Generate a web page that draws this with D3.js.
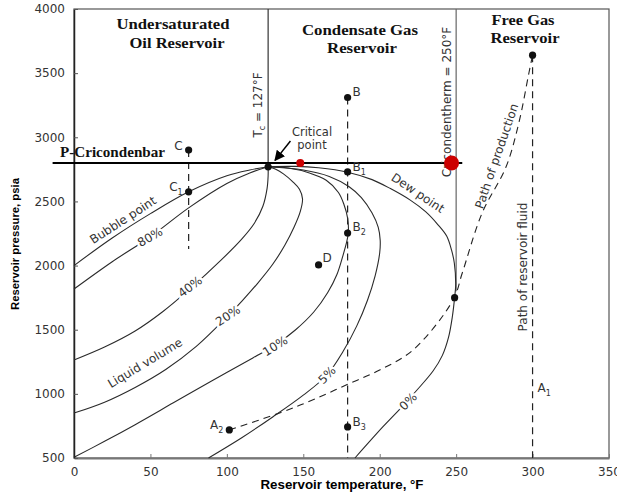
<!DOCTYPE html>
<html><head><meta charset="utf-8">
<script src="https://cdn.jsdelivr.net/npm/d3@7/dist/d3.min.js"></script>
<style>
body{margin:0;background:#fff;}
svg{display:block;}
</style></head>
<body>
<svg id="chart" width="617" height="494"></svg>
<script>
// ---------- data ----------
const xTicks = [0, 50, 100, 150, 200, 250, 300, 350];
const yTicks = [500, 1000, 1500, 2000, 2500, 3000, 3500, 4000];
const criticalPoint = [127, 2770];
const cricondenbarP = 2800;
const cricondenthermT = 250;
const bubblePoint = [[0,2000],[25,2215],[50,2405],[75,2575],[100,2700],[115,2745],[127,2770]];
const q80 = [[0,1817],[25,2030],[50,2225],[75,2450],[100,2640],[115,2722],[127,2770]];
const q40 = [[0,1264],[20,1365],[40,1490],[58,1640],[76,1820],[96,2040],[110,2210],[118,2330],[123.5,2460],[126.3,2600],[127,2700],[127,2770]];
const q20 = [[0,850],[20,935],[40,1050],[60,1190],[80,1370],[100,1600],[110,1725],[120,1860],[130,2010],[138,2160],[144,2300],[148,2420],[149.5,2520],[147.5,2595],[143,2655],[137,2715],[132,2750],[127,2770]];
const q10 = [[0,505],[20,630],[40,760],[65,930],[90,1100],[117,1280],[131,1375],[145,1500],[157,1640],[166,1790],[172,1930],[176,2080],[178.5,2190],[179.5,2260],[179,2370],[176.5,2480],[173,2570],[165,2665],[154,2722],[140,2760],[127,2770]];
const q5 = [[88,500],[110,660],[130,820],[150,990],[165.5,1147],[176,1330],[185,1530],[192,1730],[197,1920],[200,2100],[200.3,2200],[199,2300],[195,2410],[188,2530],[180,2615],[167,2695],[150,2745],[127,2770]];
const dewPoint = [[183.8,500],[202,742],[213,880],[224.4,1030],[235,1180],[241,1300],[245,1440],[247.5,1600],[249,1750],[249.7,1850],[248.8,2020],[247,2120],[243.8,2230],[238,2320],[230,2420],[220,2510],[207,2600],[195,2670],[179,2728],[160,2762],[145,2773],[127,2770]];
const pathProduction = [[101.6,719],[134.5,851],[156,952],[178,1069],[200,1186],[221.8,1342],[248,1732],[254,1942],[267,2410],[282.6,2768],[291,3111],[297.6,3501],[300,3640]];
const pointNames = ["C","C1","B","B1","B2","B3","D","A2","Dew","A"];
const pointT = [75, 75, 179, 179, 179, 179, 160, 101.6, 249, 300];
const pointP = [2900, 2575, 3310, 2730, 2254, 742, 2005, 719, 1750, 3640];
const redDotT = [148, 247];
const redDotP = [2800, 2800];

// ---------- setup ----------
const svg = d3.select("#chart");
const x = d3.scaleLinear().domain([0, 350]).range([74, 609]);
const y = d3.scaleLinear().domain([500, 4000]).range([458, 9]);
const sans = "'DejaVu Sans', sans-serif";
const serif = "'Liberation Serif', 'Times New Roman', serif";
const line = d3.line().x(d => x(d[0])).y(d => y(d[1])).curve(d3.curveCatmullRom.alpha(0.5));

// frame
svg.append("rect").attr("x", x(0)).attr("y", y(4000))
  .attr("width", x(350) - x(0)).attr("height", y(500) - y(4000))
  .attr("fill", "none").attr("stroke", "#555").attr("stroke-width", 1.2);

// axes
const xAxis = svg.append("g").attr("transform", `translate(0,${y(500)})`)
  .call(d3.axisBottom(x).tickValues(xTicks).tickFormat(d3.format("d")).tickSizeInner(-4).tickSizeOuter(0).tickPadding(9));
xAxis.select(".domain").attr("stroke", "#777").attr("stroke-width", 2);
xAxis.selectAll(".tick line").attr("stroke", "#777");
xAxis.selectAll("text").attr("font-family", sans).attr("font-size", 12).attr("fill", "#333");

const yAxis = svg.append("g").attr("transform", `translate(${x(0)},0)`)
  .call(d3.axisLeft(y).tickValues(yTicks).tickFormat(d3.format("d")).tickSizeInner(-4).tickSizeOuter(0).tickPadding(9));
yAxis.select(".domain").attr("stroke", "#222").attr("stroke-width", 1.5);
yAxis.selectAll(".tick line").attr("stroke", "#555");
yAxis.selectAll("text").attr("font-family", sans).attr("font-size", 12).attr("fill", "#333");

svg.append("text").attr("x", 342).attr("y", 489).attr("text-anchor", "middle")
  .attr("font-family", "'Liberation Sans', Arial, sans-serif").attr("font-weight", "bold").attr("font-size", 12)
  .attr("textLength", 163).attr("lengthAdjust", "spacingAndGlyphs")
  .text("Reservoir temperature, °F");
svg.append("text").attr("transform", "translate(19,244) rotate(-90)").attr("text-anchor", "middle")
  .attr("font-family", "'Liberation Sans', Arial, sans-serif").attr("font-weight", "bold").attr("font-size", 11.5)
  .attr("textLength", 132).attr("lengthAdjust", "spacingAndGlyphs")
  .text("Reservoir pressure, psia");

// vertical reference lines
svg.append("line").attr("x1", x(criticalPoint[0])).attr("x2", x(criticalPoint[0]))
  .attr("y1", y(4000)).attr("y2", y(criticalPoint[1])).attr("stroke", "#333").attr("stroke-width", 1.2);
svg.append("line").attr("x1", x(cricondenthermT)).attr("x2", x(cricondenthermT))
  .attr("y1", y(4000)).attr("y2", y(1800)).attr("stroke", "#666").attr("stroke-width", 1.2);

// dashed paths
const dash = "7,5";
svg.append("line").attr("x1", x(75)).attr("x2", x(75)).attr("y1", y(2900)).attr("y2", y(2130))
  .attr("stroke", "#222").attr("stroke-width", 1.2).attr("stroke-dasharray", dash);
svg.append("line").attr("x1", x(179)).attr("x2", x(179)).attr("y1", y(3310)).attr("y2", y(500))
  .attr("stroke", "#222").attr("stroke-width", 1.2).attr("stroke-dasharray", dash);
svg.append("line").attr("x1", x(300)).attr("x2", x(300)).attr("y1", y(3640)).attr("y2", y(500))
  .attr("stroke", "#222").attr("stroke-width", 1.2).attr("stroke-dasharray", dash);
svg.append("path").attr("d", line(pathProduction)).attr("fill", "none")
  .attr("stroke", "#222").attr("stroke-width", 1.1).attr("stroke-dasharray", dash);

// phase envelope curves
[bubblePoint, q80, q40, q20, q10, q5, dewPoint].forEach(c => {
  svg.append("path").attr("d", line(c)).attr("fill", "none").attr("stroke", "#2a2a2a").attr("stroke-width", 1.1);
});

// cricondenbar line
svg.append("line").attr("x1", x(-14)).attr("x2", x(254)).attr("y1", y(cricondenbarP)).attr("y2", y(cricondenbarP))
  .attr("stroke", "#000").attr("stroke-width", 2);

// curve labels (with white halo to break the line)
function curveLabel(txt, T, P, ang, halo) {
  const t = svg.append("text").attr("transform", `translate(${x(T)},${y(P)}) rotate(${ang})`)
    .attr("text-anchor", "middle").attr("dy", "0.35em")
    .attr("font-family", sans).attr("font-size", 12).attr("fill", "#333").text(txt);
  if (halo) t.attr("stroke", "#fff").attr("stroke-width", 5).attr("paint-order", "stroke");
  return t;
}
curveLabel("Bubble point", 32, 2355, -33, false);
curveLabel("80%", 49.7, 2223, -30, true);
curveLabel("40%", 75.9, 1835, -37, true);
curveLabel("Liquid volume", 46.4, 1241, -31, false);
curveLabel("20%", 100.7, 1610, -33, true);
curveLabel("10%", 131.5, 1373, -32, true);
curveLabel("5%", 165.5, 1147, -45, true);
curveLabel("0%", 218.5, 940, -45, true);
curveLabel("Dew point", 225, 2566, 34, false);
curveLabel("Path of production", 276.5, 2854, -71, false);
curveLabel("Path of reservoir fluid", 293.7, 1989, -90, false);
curveLabel("Cricondentherm = 250°F", 244, 3275, -90, false);

// Tc label
const tc = svg.append("text").attr("transform", `translate(${x(120.4)},${y(3252)}) rotate(-90)`)
  .attr("text-anchor", "middle").attr("dy", "0.35em")
  .attr("font-family", sans).attr("font-size", 12).attr("fill", "#333");
tc.append("tspan").text("T");
tc.append("tspan").attr("font-size", 8).attr("dy", "3").text("c");
tc.append("tspan").attr("dy", "-3").text(" = 127°F");

// critical point annotation
svg.append("text").attr("x", x(155.7)).attr("y", y(3010)).attr("text-anchor", "middle")
  .attr("font-family", sans).attr("font-size", 11.5).attr("fill", "#333").text("Critical");
svg.append("text").attr("x", x(155.7)).attr("y", y(2905)).attr("text-anchor", "middle")
  .attr("font-family", sans).attr("font-size", 11.5).attr("fill", "#333").text("point");
svg.append("defs").append("marker").attr("id", "arr").attr("viewBox", "0 0 10 10")
  .attr("refX", 9).attr("refY", 5).attr("markerWidth", 7).attr("markerHeight", 7)
  .attr("orient", "auto").append("path").attr("d", "M0,0L10,5L0,10z").attr("fill", "#000");
svg.append("line").attr("x1", x(141.6)).attr("y1", y(2971)).attr("x2", x(131.5)).attr("y2", y(2820))
  .attr("stroke", "#000").attr("stroke-width", 1.5).attr("marker-end", "url(#arr)");

// red dots
svg.selectAll(".red").data(redDotT).enter().append("circle")
  .attr("cx", d => x(d)).attr("cy", (d, i) => y(redDotP[i]))
  .attr("r", (d, i) => i === 0 ? 4 : 7.5).attr("fill", "#cc0000");

// black points
svg.selectAll(".pt").data(pointT).enter().append("circle")
  .attr("cx", d => x(d)).attr("cy", (d, i) => y(pointP[i])).attr("r", 3.6).attr("fill", "#111");
svg.append("circle").attr("cx", x(criticalPoint[0])).attr("cy", y(criticalPoint[1])).attr("r", 3.6).attr("fill", "#111");

// point labels
function ptLabel(main, sub, T, P, dx, anchor) {
  const t = svg.append("text").attr("x", x(T) + dx).attr("y", y(P)).attr("dy", "0.1em")
    .attr("text-anchor", anchor).attr("font-family", sans).attr("font-size", 12).attr("fill", "#333");
  t.append("tspan").text(main);
  if (sub) t.append("tspan").attr("font-size", 8).attr("dy", "4").text(sub);
}
ptLabel("C", "", 75, 2910, -6, "end");
ptLabel("C", "1", 75, 2590, -6, "end");
ptLabel("B", "", 179, 3330, 5, "start");
ptLabel("B", "1", 179, 2745, 5, "start");
ptLabel("B", "2", 179, 2275, 5, "start");
ptLabel("B", "3", 179, 760, 5, "start");
ptLabel("D", "", 160, 2035, 4, "start");
ptLabel("A", "2", 101.6, 735, -6, "end");
ptLabel("A", "1", 300, 1025, 5, "start");

// region titles
function title(txt, cx, P, len) {
  svg.append("text").attr("x", cx).attr("y", y(P)).attr("text-anchor", "middle")
    .attr("font-family", serif).attr("font-weight", "bold").attr("font-size", 15).attr("fill", "#111")
    .attr("textLength", len).attr("lengthAdjust", "spacingAndGlyphs").text(txt);
}
title("Undersaturated", 173, 3844, 113);
title("Oil Reservoir", 177, 3696, 95);
title("Condensate Gas", 360, 3797, 116);
title("Reservoir", 362, 3657, 70);
title("Free Gas", 523, 3875, 63);
title("Reservoir", 525, 3735, 69);
svg.append("text").attr("x", 60).attr("y", 157)
  .attr("font-family", serif).attr("font-weight", "bold").attr("font-size", 14).attr("fill", "#111")
  .attr("textLength", 105).attr("lengthAdjust", "spacingAndGlyphs").text("P-Cricondenbar");
</script>
</body></html>
